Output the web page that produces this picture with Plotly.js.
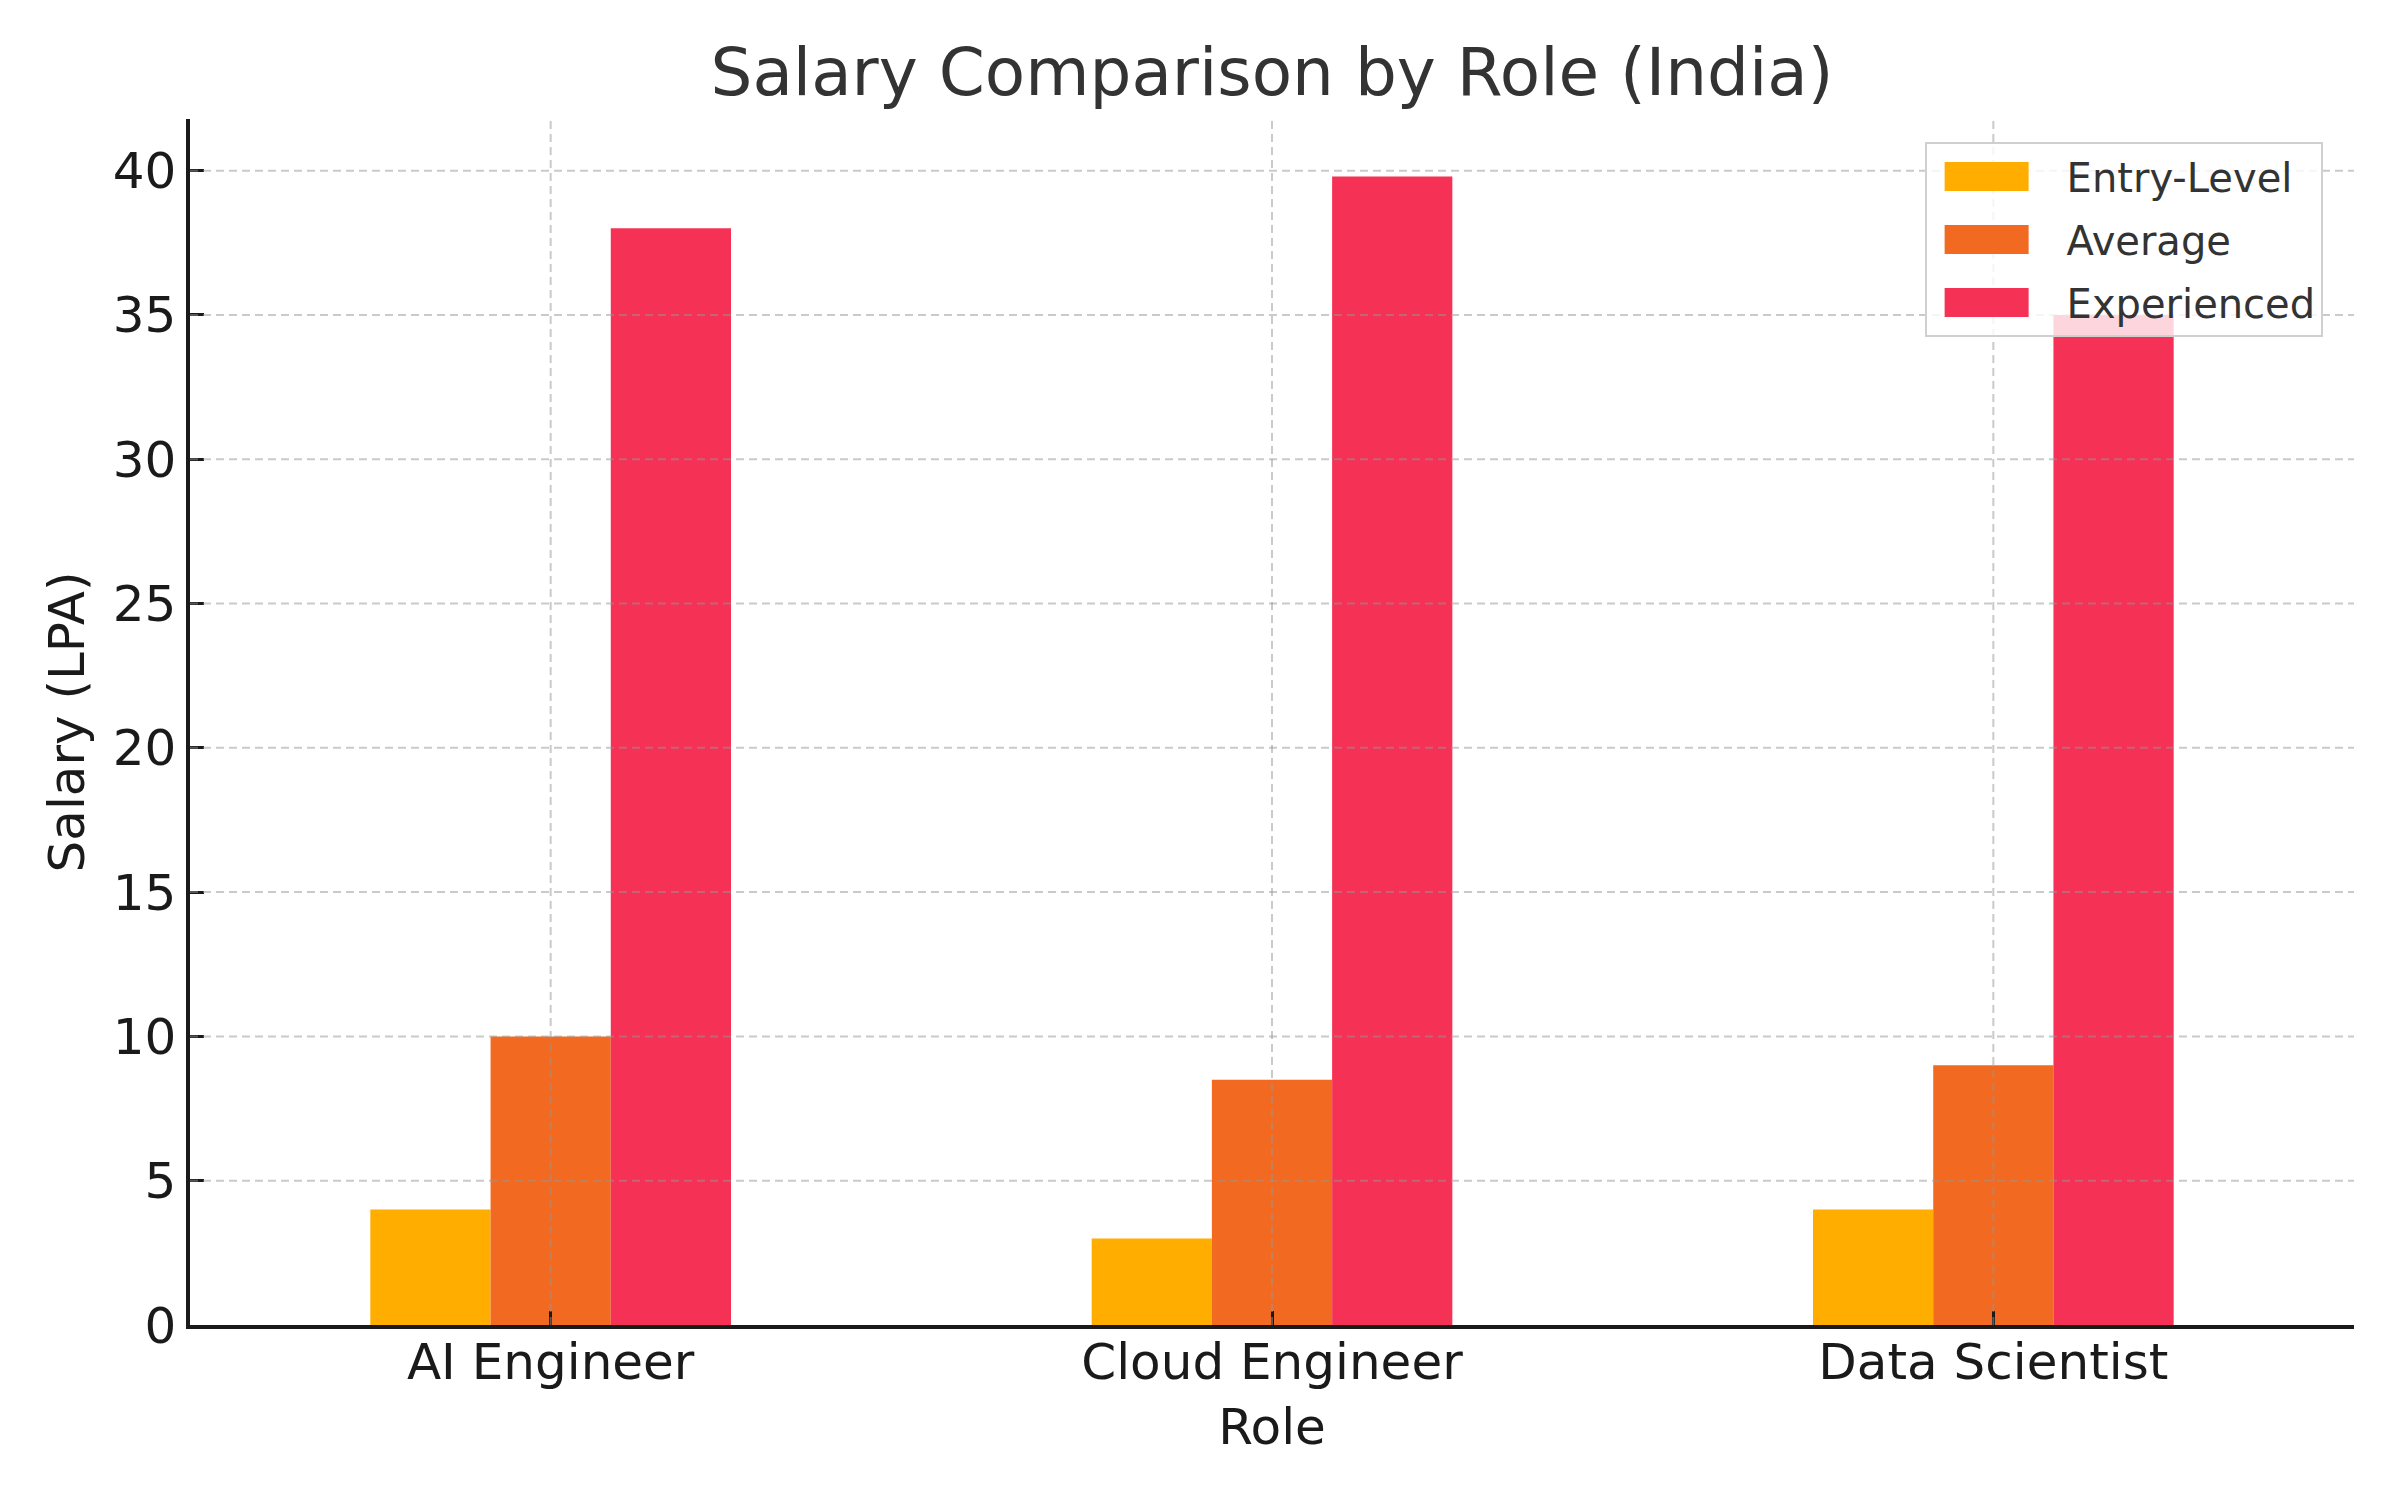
<!DOCTYPE html>
<html>
<head>
<meta charset="utf-8">
<script src="https://cdn.plot.ly/plotly-3.0.1.min.js"></script>
<style>html,body{margin:0;padding:0;background:#fff;}#chart{width:2400px;height:1500px;}</style>
</head>
<body>
<div id="chart"></div>
<script>
const roles = ["AI Engineer", "Cloud Engineer", "Data Scientist"];
const seriesNames = ["Entry-Level", "Average", "Experienced"];
const entryLevel = [4, 3, 4];
const average = [10, 8.5, 9];
const experienced = [38, 39.8, 35];
const seriesColors = ["#FFAE00", "#F26A21", "#F53255"];
const yTickVals = [0, 5, 10, 15, 20, 25, 30, 35, 40];

const seriesValues = [entryLevel, average, experienced];
const traces = seriesValues.map((vals, i) => ({
  type: "bar",
  name: seriesNames[i],
  x: roles,
  y: vals,
  marker: {color: seriesColors[i], line: {width: 0}},
  legendgroup: "g" + i,
  hoverinfo: "x+y+name"
}));

const yMax = Math.max(...entryLevel, ...average, ...experienced) * 1.05;

const gridStyle = {color: "rgba(150,150,150,0.5)", width: 2, dash: "8px,5px"};
const shapes = [];
yTickVals.filter(v => v > 0).forEach(v => {
  shapes.push({type: "line", layer: "above", xref: "paper", yref: "y", x0: 0, x1: 1, y0: v, y1: v, line: gridStyle});
});
roles.forEach(r => {
  shapes.push({type: "line", layer: "above", xref: "x", yref: "paper", x0: r, x1: r, y0: 0, y1: 1, line: gridStyle});
});

const axisColor = "#1a1a1a";
const layout = {
  width: 2400,
  height: 1500,
  paper_bgcolor: "#ffffff",
  plot_bgcolor: "#ffffff",
  font: {family: "DejaVu Sans, sans-serif", color: "#1a1a1a", size: 50},
  margin: {l: 190, r: 46, t: 119, b: 175, pad: 0},
  title: {
    text: "Salary Comparison by Role (India)",
    font: {family: "DejaVu Sans, sans-serif", size: 66, color: "#333333"},
    x: 0.5, xref: "paper", xanchor: "center",
    y: 1 - 72 / 1500, yref: "container", yanchor: "middle"
  },
  barmode: "group",
  bargap: 0.5,
  bargroupgap: 0,
  showlegend: true,
  legend: {
    x: 0.9855, xanchor: "right",
    y: 0.981, yanchor: "top",
    bgcolor: "rgba(255,255,255,0.8)",
    bordercolor: "#d0d0d0",
    borderwidth: 2,
    font: {family: "DejaVu Sans, sans-serif", size: 40, color: "#333333"},
    tracegroupgap: 8,
    itemwidth: 130
  },
  xaxis: {
    type: "category",
    range: [-0.5, 2.5],
    showgrid: false,
    zeroline: false,
    showline: true,
    linecolor: axisColor,
    linewidth: 3.5,
    mirror: false,
    ticks: "inside",
    ticklen: 14,
    tickwidth: 3,
    tickcolor: axisColor,
    ticklabelstandoff: -10,
    tickfont: {size: 50, color: axisColor},
    title: {text: "Role", font: {size: 50, color: axisColor}, standoff: 20}
  },
  yaxis: {
    range: [0, yMax],
    tickvals: yTickVals,
    ticktext: yTickVals.map(String),
    showgrid: false,
    zeroline: false,
    showline: true,
    linecolor: axisColor,
    linewidth: 3.5,
    mirror: false,
    ticks: "inside",
    ticklen: 14,
    tickwidth: 3,
    tickcolor: axisColor,
    tickfont: {size: 50, color: axisColor},
    title: {text: "Salary (LPA)", font: {size: 50, color: axisColor}, standoff: 13}
  },
  shapes: shapes
};

function widenLegendSwatches(gd) {
  gd.querySelectorAll(".legend .legendpoints path").forEach(p => {
    p.setAttribute("d", "M32,14.5H-52V-14.5H32Z");
  });
}

Plotly.newPlot("chart", traces, layout, {displayModeBar: false, responsive: false}).then(gd => {
  widenLegendSwatches(gd);
  gd.on("plotly_afterplot", () => widenLegendSwatches(gd));
});
</script>
</body>
</html>
